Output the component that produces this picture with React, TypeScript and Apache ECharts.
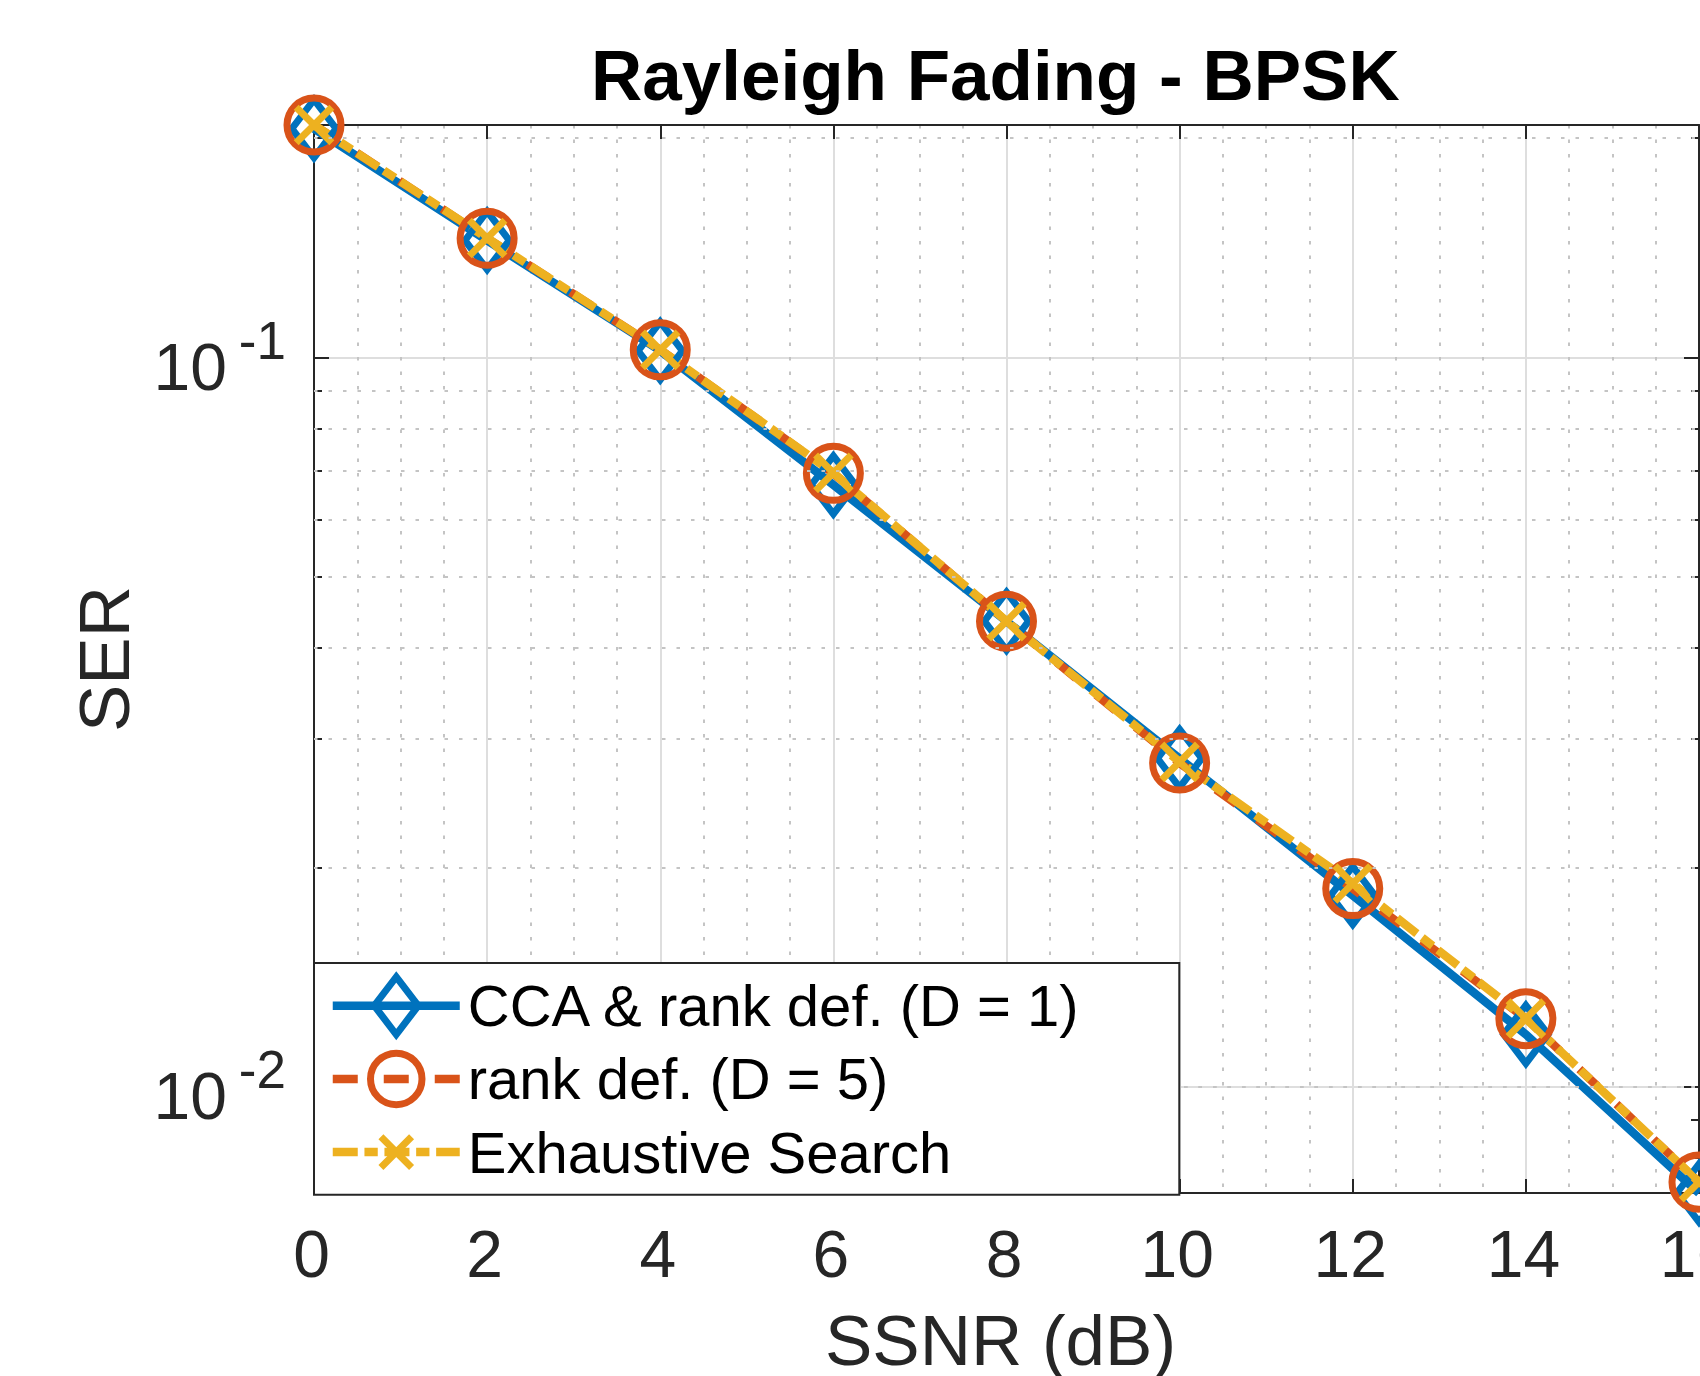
import React, { useEffect, useRef } from 'react';
import * as echarts from 'echarts';

// ---------- data ----------
const snrDb = [0, 2, 4, 6, 8, 10, 12, 14, 16];
const serCca = [0.2061, 0.1448, 0.1022, 0.0669, 0.0435, 0.0282, 0.0183, 0.0118, 0.00715];
const serRank5 = [0.2085, 0.1458, 0.1025, 0.0694, 0.0435, 0.0278, 0.0187, 0.0124, 0.0074];
const serExhaustive = [0.2085, 0.1459, 0.1025, 0.0695, 0.0435, 0.0279, 0.019, 0.0124, 0.0074];
const seriesNames = ['CCA & rank def. (D = 1)', 'rank def. (D = 5)', 'Exhaustive Search'];
const xMin = 0;
const xMax = 16;
const xTickStep = 2;
const yMajorTicks = [0.01, 0.1];
const yMinorTicks = [0.008, 0.009, 0.02, 0.03, 0.04, 0.05, 0.06, 0.07, 0.08, 0.09, 0.2];
const titleText = 'Rayleigh Fading - BPSK';
const xLabel = 'SSNR (dB)';
const yLabel = 'SER';

// axis tight
const allValues = [...serCca, ...serRank5, ...serExhaustive];
const yMin = Math.min(...allValues);
const yMax = Math.max(...allValues);

// ---------- styles ----------
const FONT = '"Liberation Sans", Arial, Helvetica, sans-serif';
const AX = '#262626';
const GRID_MAJOR = '#dedede';
const GRID_MINOR = '#c4c4c4';
const BLUE = '#0072BD';
const ORANGE = '#D95319';
const YELLOW = '#EDB120';
const LW = 8.5;
const MW = 7;

const DIAMOND = 'path://M0,0M100,100M50,0L88.2,50L50,100L11.8,50Z';
const CIRCLE = 'path://M0,0M100,100M5.3,50A44.7,44.7,0,1,1,94.7,50A44.7,44.7,0,1,1,5.3,50Z';
const CROSS = 'path://M0,0M100,100M23.4,23.4L76.6,76.6M76.6,23.4L23.4,76.6';

const pairs = (ys: number[]) => snrDb.map((x, i) => [x, ys[i]]);

const axisLineStyle = { color: AX, width: 2 };

const decadeFormatter = (v: number) => {
  const l = Math.log10(v);
  const e = Math.round(l);
  if (Math.abs(l - e) > 1e-6) return '';
  return `{b|10}{s|${e}}`;
};

const makeLogAxis = (position: 'left' | 'right', major: boolean, withLabels: boolean) => ({
  type: 'log',
  logBase: 10,
  min: yMin,
  max: yMax,
  position,
  gridIndex: 0,
  axisLine: { show: major, onZero: false, lineStyle: axisLineStyle },
  axisTick: {
    show: true,
    inside: true,
    length: major ? 15 : 8,
    customValues: major ? yMajorTicks : yMinorTicks,
    lineStyle: axisLineStyle,
  },
  axisLabel: withLabels
    ? {
        show: true,
        margin: 28,
        customValues: yMajorTicks,
        formatter: decadeFormatter,
        color: AX,
        fontFamily: FONT,
        rich: {
          b: { fontSize: 66, lineHeight: 66, color: AX, fontFamily: FONT, padding: [19, 0, 0, 0] },
          s: { fontSize: 53, lineHeight: 53, color: AX, fontFamily: FONT, padding: [0, 0, 35, 12] },
        },
      }
    : { show: false },
  splitLine: withLabels ? { show: true, lineStyle: { color: GRID_MAJOR, width: 2 } } : { show: false },
  minorTick: { show: false },
  minorSplitLine: { show: false },
  ...(withLabels
    ? {
        name: yLabel,
        nameLocation: 'middle',
        nameGap: 174,
        nameTextStyle: { fontSize: 71, color: AX, fontFamily: FONT },
      }
    : {}),
});

const makeLineSeries = (
  name: string,
  ys: number[],
  color: string,
  symbol: string,
  size: number,
  dash: any
) => ({
  type: 'line',
  name,
  data: pairs(ys),
  xAxisIndex: 0,
  yAxisIndex: 0,
  clip: false,
  silent: true,
  symbol,
  symbolSize: size,
  showSymbol: true,
  showAllSymbol: true,
  lineStyle: { color, width: LW, type: dash, cap: 'butt', join: 'miter' },
  itemStyle: { color: 'none', borderColor: color, borderWidth: MW, borderJoin: 'miter', borderCap: 'butt' },
  emphasis: { disabled: true },
});

const option: any = {
  animation: false,
  backgroundColor: '#ffffff',
  title: {
    text: titleText,
    left: 586,
    top: 35,
    textStyle: { fontSize: 71, fontWeight: 'bold', color: '#000000', fontFamily: FONT },
  },
  grid: { left: 314, right: 1, top: 125, bottom: 183, containLabel: false, outerBoundsMode: 'none' },
  legend: {
    data: seriesNames,
    orient: 'vertical',
    left: 314,
    top: 963,
    itemWidth: 127,
    itemHeight: 72,
    itemGap: 8.6,
    padding: [10.4, 97.5, 10.4, 14.5],
    backgroundColor: '#ffffff',
    borderColor: AX,
    borderWidth: 2,
    borderRadius: 0,
    selectedMode: false,
    textStyle: { fontSize: 58, color: '#000000', fontFamily: FONT, padding: [0, 0, 0, 3] },
    itemStyle: { borderWidth: MW },
    lineStyle: { width: LW },
    z: 10,
  },
  xAxis: [
    {
      type: 'value',
      min: xMin,
      max: xMax,
      interval: xTickStep,
      position: 'bottom',
      axisLine: { show: true, onZero: false, lineStyle: axisLineStyle },
      axisTick: { show: true, inside: true, length: 14, lineStyle: axisLineStyle },
      axisLabel: {
        show: true,
        margin: 28,
        fontSize: 66,
        color: AX,
        fontFamily: FONT,
        padding: [0, 5, 0, 0],
        showMinLabel: true,
        showMaxLabel: true,
      },
      splitLine: { show: true, lineStyle: { color: GRID_MAJOR, width: 2 } },
      minorTick: { show: false, splitNumber: 4 },
      minorSplitLine: { show: true, lineStyle: { color: GRID_MINOR, width: 2, type: [3.5, 11] } },
      name: xLabel,
      nameLocation: 'middle',
      nameGap: 112,
      nameTextStyle: { fontSize: 71, color: AX, fontFamily: FONT, padding: [0, 12, 0, 0] },
    },
    {
      type: 'value',
      min: xMin,
      max: xMax,
      interval: xTickStep,
      position: 'top',
      axisLine: { show: true, onZero: false, lineStyle: axisLineStyle },
      axisTick: { show: true, inside: true, length: 14, lineStyle: axisLineStyle },
      axisLabel: { show: false },
      splitLine: { show: false },
    },
  ],
  yAxis: [
    makeLogAxis('left', true, true),
    makeLogAxis('right', true, false),
    makeLogAxis('left', false, false),
    makeLogAxis('right', false, false),
  ],
  series: [
    {
      type: 'line',
      name: '__minorGrid',
      data: [],
      xAxisIndex: 0,
      yAxisIndex: 0,
      silent: true,
      symbol: 'none',
      markLine: {
        silent: true,
        symbol: ['none', 'none'],
        label: { show: false },
        emphasis: { disabled: true },
        lineStyle: { color: GRID_MINOR, width: 2, type: [3.5, 11] },
        data: yMinorTicks.map((v) => ({ yAxis: v })),
      },
    },
    makeLineSeries(seriesNames[0], serCca, BLUE, DIAMOND, 58, 'solid'),
    makeLineSeries(seriesNames[1], serRank5, ORANGE, CIRCLE, 60.4, [25, 26]),
    makeLineSeries(seriesNames[2], serExhaustive, YELLOW, CROSS, 67, [25, 6.7, 13.3, 6.7]),
  ],
};

export default function App() {
  const ref = useRef<HTMLDivElement>(null);
  useEffect(() => {
    if (!ref.current) return;
    const chart = echarts.init(ref.current, null, { renderer: 'svg' });
    chart.setOption(option);
    return () => {
      chart.dispose();
    };
  }, []);
  return (
    <div
      ref={ref}
      style={{ position: 'absolute', left: 0, top: 0, width: 1700, height: 1376, background: '#ffffff' }}
    />
  );
}
